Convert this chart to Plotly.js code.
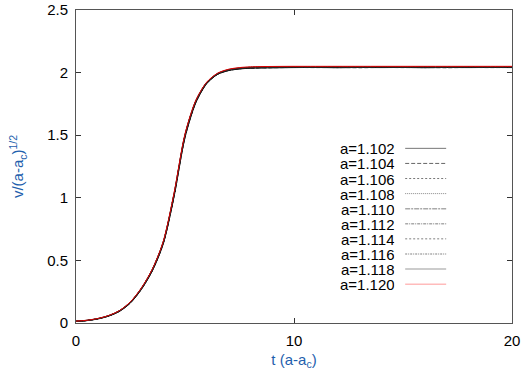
<!DOCTYPE html>
<html>
<head>
<meta charset="utf-8">
<script src="https://cdn.plot.ly/plotly-3.0.1.min.js"></script>
<style>html,body{margin:0;padding:0;background:#fff}#plot{width:525px;height:377px}</style>
</head>
<body>
<div id="plot"></div>
<script>
// time axis t (a-a_c)
var tValues = [0,0.5,1,1.5,2,2.5,3,3.5,4,4.5,5,5.5,6,6.5,7,7.5,8,9,10,11,12,13,14,15,16,17,18,19,20];

var seriesLabels = ["a=1.102","a=1.104","a=1.106","a=1.108","a=1.110","a=1.112","a=1.114","a=1.116","a=1.118","a=1.120"];

var v1102 = [0.012,0.019,0.032,0.055,0.093,0.160,0.268,0.415,0.630,1.010,1.480,1.760,1.912,1.986,2.016,2.029,2.035,2.038,2.040,2.041,2.039,2.041,2.040,2.041,2.039,2.041,2.040,2.041,2.040];
var v1104 = [0.012,0.019,0.033,0.056,0.094,0.162,0.270,0.418,0.633,1.014,1.484,1.763,1.914,1.987,2.017,2.030,2.036,2.039,2.041,2.040,2.041,2.039,2.041,2.040,2.041,2.039,2.041,2.040,2.041];
var v1106 = [0.013,0.020,0.033,0.057,0.095,0.163,0.272,0.420,0.636,1.018,1.488,1.766,1.916,1.988,2.018,2.031,2.037,2.040,2.041,2.042,2.040,2.042,2.041,2.042,2.040,2.042,2.041,2.042,2.041];
var v1108 = [0.013,0.020,0.034,0.057,0.096,0.164,0.273,0.422,0.639,1.021,1.492,1.768,1.917,1.989,2.019,2.032,2.038,2.041,2.042,2.041,2.043,2.041,2.042,2.041,2.043,2.041,2.042,2.041,2.042];
var v1110 = [0.013,0.020,0.034,0.058,0.097,0.165,0.275,0.424,0.641,1.025,1.495,1.770,1.919,1.990,2.020,2.033,2.039,2.042,2.043,2.042,2.043,2.042,2.044,2.042,2.043,2.042,2.044,2.042,2.043];
var v1112 = [0.014,0.021,0.035,0.058,0.098,0.166,0.276,0.426,0.643,1.028,1.498,1.772,1.920,1.991,2.021,2.034,2.040,2.043,2.044,2.043,2.044,2.043,2.045,2.043,2.044,2.043,2.045,2.043,2.044];
var v1114 = [0.014,0.021,0.035,0.059,0.098,0.167,0.277,0.427,0.645,1.031,1.501,1.774,1.921,1.992,2.022,2.035,2.041,2.044,2.045,2.044,2.045,2.044,2.045,2.044,2.045,2.044,2.045,2.044,2.045];
var v1116 = [0.014,0.021,0.035,0.059,0.099,0.168,0.278,0.428,0.647,1.034,1.504,1.776,1.922,1.993,2.023,2.036,2.042,2.045,2.046,2.045,2.046,2.045,2.046,2.045,2.046,2.045,2.046,2.045,2.046];
var v1118 = [0.015,0.022,0.036,0.060,0.100,0.169,0.279,0.429,0.648,1.037,1.507,1.778,1.923,1.994,2.024,2.037,2.043,2.046,2.047,2.046,2.047,2.046,2.047,2.046,2.047,2.046,2.047,2.046,2.047];
var v1120 = [0.015,0.022,0.036,0.060,0.100,0.170,0.280,0.430,0.650,1.040,1.510,1.780,1.925,1.996,2.027,2.040,2.046,2.049,2.050,2.050,2.050,2.050,2.050,2.050,2.050,2.050,2.050,2.050,2.050];

var seriesValues = [v1102,v1104,v1106,v1108,v1110,v1112,v1114,v1116,v1118,v1120];

// styles
var traceColors = ["#000","#111","#111","#111","#222","#222","#222","#222","#333","#e00000"];
var traceDash = ["solid","4px,2px","2px,2px","1px,1px","5px,1px,2px,1px","3px,1px,1px,1px","2px,2px","2px,1px,1px,1px","solid","solid"];
var sampleColors = ["#777","#666","#777","#888","#aaa","#aaa","#aaa","#aaa","#bbb","#fbb"];
var sampleWidths = [1,1,1,1,1.5,1.5,1.5,1.5,1.5,1.5];

var traces = seriesValues.map(function(vals, i){
  return {
    x: tValues, y: vals, type: "scatter", mode: "lines",
    name: seriesLabels[i], showlegend: false,
    line: {color: traceColors[i], width: 1, dash: traceDash[i], shape: "spline", smoothing: 0.8}
  };
});

var font = "Liberation Sans, Arial, Helvetica, sans-serif";
var blue = "#1f5fad";

var annotations = [], shapes = [];
var row0 = 0.558, rowStep = 0.0482;
seriesLabels.forEach(function(lbl, i){
  var yy = row0 - i*rowStep;
  annotations.push({xref:"paper", yref:"paper", x:0.734, y:yy, xanchor:"right", yanchor:"middle",
    height: 14, borderpad: 0, valign: "middle",
    text: lbl, showarrow:false, font:{family:font, size:15, color:"#000"}});
  shapes.push({type:"line", xref:"paper", yref:"paper", x0:0.755, x1:0.849, y0:yy, y1:yy,
    line:{color: sampleColors[i], width: sampleWidths[i], dash: traceDash[i]}});
});

var layout = {
  width: 525, height: 377,
  margin: {l:76, r:13, t:10, b:54},
  paper_bgcolor: "#fff", plot_bgcolor: "#fff",
  font: {family: font, size: 15, color: "#000"},
  showlegend: false,
  xaxis: {
    range: [0,20], dtick: 10, tick0: 0,
    showgrid: false, zeroline: false,
    showline: true, linecolor: "#555", linewidth: 1, mirror: "ticks",
    ticks: "inside", ticklen: 5, tickcolor: "#333", tickwidth: 1,
    ticklabelstandoff: 4,
    tickfont: {family: font, size: 15, color: "#000"},
    title: {text: "t (a-a<sub>c</sub>)", font: {family: font, size: 15, color: blue}, standoff: 6}
  },
  yaxis: {
    range: [0,2.5], dtick: 0.5, tick0: 0,
    showgrid: false, zeroline: false,
    showline: true, linecolor: "#555", linewidth: 1, mirror: "ticks",
    ticks: "inside", ticklen: 5, tickcolor: "#333", tickwidth: 1,
    ticklabelstandoff: 4,
    tickfont: {family: font, size: 15, color: "#000"},
    title: {text: "v/(a-a<sub>c</sub>)<sup>1/2</sup>", font: {family: font, size: 15, color: blue}, standoff: 19}
  },
  annotations: annotations,
  shapes: shapes
};

Plotly.newPlot("plot", traces, layout, {displayModeBar: false, staticPlot: true});
</script>
</body>
</html>
